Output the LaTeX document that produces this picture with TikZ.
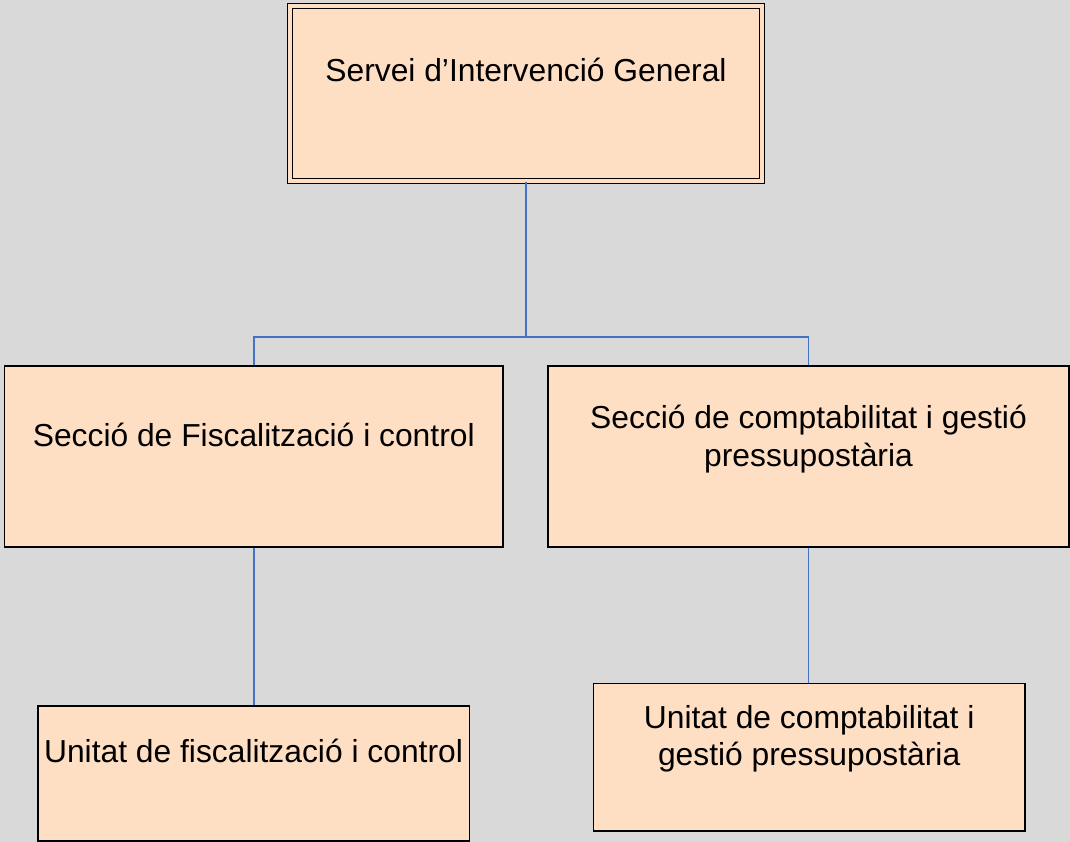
\documentclass[tikz,border=0pt]{standalone}
\usepackage{fontspec}
\setmainfont{Liberation Sans}
\definecolor{bgc}{HTML}{D9D9D9}
\definecolor{peach}{HTML}{FFDFC4}
\definecolor{connc}{HTML}{4472C4}
\newcommand{\orgtext}[4]{\parbox[c][#2pt][t]{#1pt}{\centering\rule{0pt}{#3pt}#4}}
\begin{document}
\begin{tikzpicture}[x=1pt,y=-1pt,
  orgbox/.style={draw=black, line width=1.6pt, fill=peach, inner sep=0pt,
    font=\fontsize{31.8pt}{37.8pt}\selectfont},
  topbox/.style={orgbox, line width=1.5pt, double=peach, double distance=3.2pt},
  conn/.style={draw=connc, line width=1.8pt}]
\useasboundingbox (0,0) rectangle (1070,842);
\fill[bgc] (0,0) rectangle (1070,842);
\clip (0,0) rectangle (1070,842);

\node[topbox] (top) at (526,93.5) {\orgtext{472}{175}{75.7}{Servei d’Intervenció General}};
\node[orgbox] (secf) at (253.75,456.5) {\orgtext{498.5}{181}{80.7}{Secció de Fiscalització i control}};
\node[orgbox] (secc) at (808.5,456.5) {\orgtext{521}{181}{62.3}{Secció de comptabilitat i gestió\\pressupostària}};
\node[orgbox] (unif) at (253.5,773.35) {\orgtext{431.6}{135.3}{57}{Unitat de fiscalització i control}};
\node[orgbox] (unic) at (809.15,757.15) {\orgtext{431.7}{147.7}{44.7}{Unitat de comptabilitat i\\gestió pressupostària}};

\coordinate (bus) at (526,337.3);
\draw[conn] (top.south) -- (bus);
\draw[conn] (secf.north) |- (bus) -| (secc.north);
\draw[conn] (secf.south) -- (secf.south |- unif.north);
\draw[conn] (secc.south) -- (secc.south |- unic.north);
\end{tikzpicture}
\end{document}
